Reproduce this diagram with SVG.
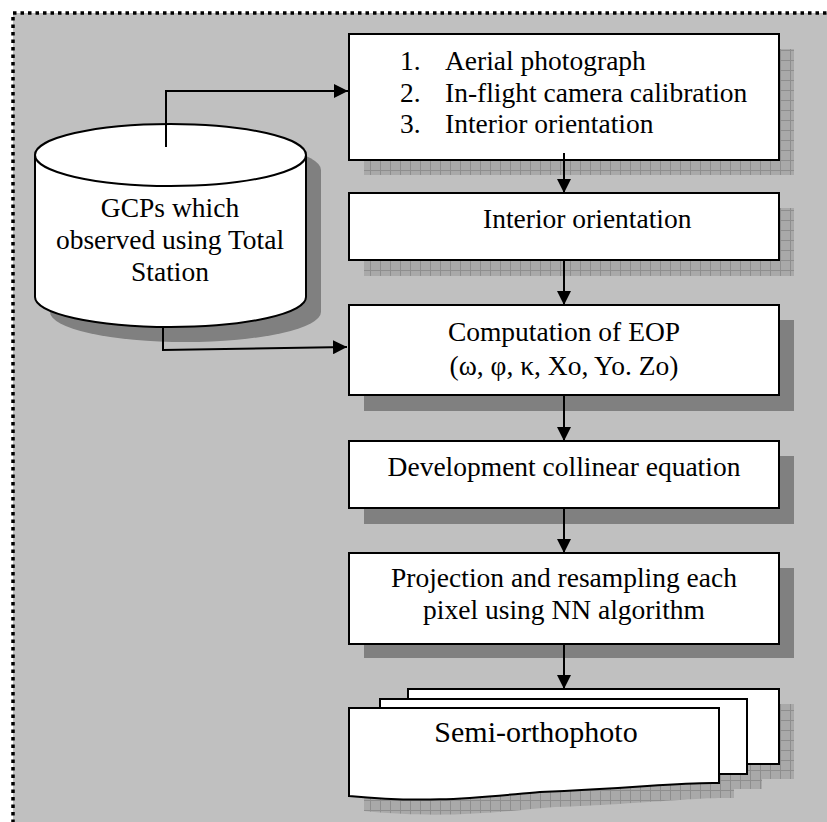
<svg xmlns="http://www.w3.org/2000/svg" width="827" height="822" viewBox="0 0 827 822">
<style>
.box{fill:#fff;stroke:#000;stroke-width:2}
.sh{fill:#808080}
.shp{fill:url(#grid)}
.t{font-family:"Liberation Serif","Times New Roman",serif;font-size:27.5px;fill:#000}
.c{text-anchor:middle}
.con{fill:none;stroke:#000;stroke-width:2;marker-end:url(#ah)}
</style>
<defs>
<pattern id="grid" patternUnits="userSpaceOnUse" width="10" height="10">
<rect width="10" height="10" fill="#a9a9a9"/>
<path d="M0,0.5H10M0.5,0V10" stroke="#8e8e8e" stroke-width="1"/>
</pattern>
<marker id="ah" markerUnits="userSpaceOnUse" markerWidth="14" markerHeight="14" refX="14" refY="7" orient="auto">
<path d="M0,0L14,7L0,14z" fill="#000"/>
</marker>
</defs>
<rect x="0" y="0" width="827" height="822" fill="#fff"/>
<rect x="13" y="13" width="840" height="840" fill="#c0c0c0" stroke="#000" stroke-width="3.5" stroke-dasharray="3.5 4"/>

<g id="gcps">
<path class="sh" d="M50,170V312A135.5,30 0 0 0 321,312V170A135.5,31 0 0 0 50,170z"/>
<path class="box" d="M35,155V297A135.5,30 0 0 0 306,297V155"/>
<ellipse class="box" cx="170.5" cy="155" rx="135.5" ry="31"/>
<text class="t c" x="170" y="217">GCPs which</text>
<text class="t c" x="170" y="249">observed using Total</text>
<text class="t c" x="170" y="281">Station</text>
</g>

<g id="box1">
<rect class="shp" x="364" y="49" width="430" height="126"/>
<rect class="box" x="349" y="34" width="430" height="126"/>
<text class="t" x="400" y="70">1.</text><text class="t" x="445" y="70">Aerial photograph</text>
<text class="t" x="400" y="102">2.</text><text class="t" x="445" y="102">In-flight camera calibration</text>
<text class="t" x="400" y="133">3.</text><text class="t" x="445" y="133">Interior orientation</text>
</g>

<g id="box2">
<rect class="shp" x="364" y="208" width="430" height="68"/>
<rect class="box" x="349" y="193" width="430" height="67"/>
<text class="t" x="483" y="228">Interior orientation</text>
</g>

<g id="box3">
<rect class="sh" x="364" y="320" width="430" height="91"/>
<rect class="box" x="349" y="305" width="430" height="90"/>
<text class="t c" x="564" y="341">Computation of EOP</text>
<text class="t c" x="564" y="375">(ω, φ, κ, Xo, Yo. Zo)</text>
</g>

<g id="box4">
<rect class="sh" x="364" y="456" width="430" height="68"/>
<rect class="box" x="349" y="441" width="430" height="67"/>
<text class="t c" x="564" y="476">Development collinear equation</text>
</g>

<g id="box5">
<rect class="sh" x="364" y="568" width="430" height="90"/>
<rect class="box" x="349" y="553" width="430" height="91"/>
<text class="t c" x="564" y="587">Projection and resampling each</text>
<text class="t c" x="564" y="619">pixel using NN algorithm</text>
</g>

<g id="semi-orthophoto">
<rect class="shp" x="423" y="704" width="371" height="75"/>
<rect class="shp" x="395" y="714" width="367" height="75"/>
<path class="shp" d="M364,723H734V798C695,797 655,803 555,807C495,812 445,819 364,811z"/>
<rect class="box" x="408" y="689" width="371" height="75"/>
<rect class="box" x="380" y="699" width="367" height="75"/>
<path class="box" d="M349,708H719V783C680,782 640,788 540,792C480,797 430,804 349,796z"/>
<text class="t" x="536" y="742" text-anchor="middle" style="font-size:30px">Semi-orthophoto</text>
</g>

<g id="connectors">
<path class="con" d="M166,147V91H348"/>
<path class="con" d="M163,328V350L347,347"/>
<path class="con" d="M564,153V193"/>
<path class="con" d="M564,260V305"/>
<path class="con" d="M564,395V441"/>
<path class="con" d="M564,508V553"/>
<path class="con" d="M564,644V689"/>
</g>
</svg>
